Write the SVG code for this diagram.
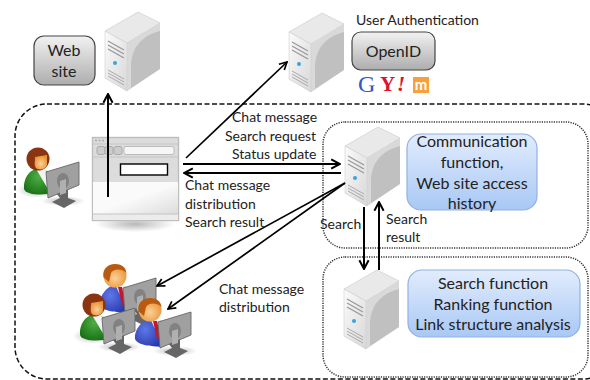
<svg xmlns="http://www.w3.org/2000/svg" xmlns:xlink="http://www.w3.org/1999/xlink" width="590" height="380" viewBox="0 0 590 380">
<style>
text{font-family:Lato,"Open Sans","Liberation Sans",sans-serif;fill:#222;font-size:14px}
.c{text-anchor:middle}
.b{font-size:16px}
.conn{fill:none;stroke:#000;stroke-width:2}
.thin{stroke-width:1.7}
.dash{fill:none;stroke:#111;stroke-width:1.5;stroke-dasharray:5 2.5}
.dot{fill:none;stroke:#333;stroke-width:1.5;stroke-dasharray:1.2 1.2}
.gray{fill:url(#gGray);stroke:#444;stroke-width:1.2}
.blue{fill:url(#gBlue);stroke:#8fb2e0;stroke-width:1.2}
.btn{fill:#ccc;stroke:#aaa}
</style>
<defs>
<linearGradient id="gGray" x1="0" y1="0" x2="0" y2="1"><stop offset="0" stop-color="#f2f2f2"/><stop offset="1" stop-color="#adadad"/></linearGradient>
<linearGradient id="gBlue" x1="0" y1="0" x2="0" y2="1"><stop offset="0" stop-color="#e2ecfd"/><stop offset="1" stop-color="#a8c8f5"/></linearGradient>
<linearGradient id="gFront" x1="0" y1="0" x2="1" y2="1"><stop offset="0" stop-color="#fbfbfb"/><stop offset="1" stop-color="#d8d8d8"/></linearGradient>
<linearGradient id="gBrowser" x1="0" y1="0" x2="1" y2="1"><stop offset="0.5" stop-color="#fafafa"/><stop offset="1" stop-color="#dcdcdc"/></linearGradient>
<radialGradient id="gHead" cx="0.5" cy="0.6" r="0.6"><stop offset="0" stop-color="#fbd09a"/><stop offset="1" stop-color="#e8902f"/></radialGradient>
<radialGradient id="gGreen" cx="0.6" cy="0.3" r="0.8"><stop offset="0" stop-color="#4fae45"/><stop offset="1" stop-color="#146d12"/></radialGradient>
<radialGradient id="gSuit" cx="0.4" cy="0.4" r="0.8"><stop offset="0" stop-color="#5f78e6"/><stop offset="1" stop-color="#1f2fa8"/></radialGradient>
<radialGradient id="gShadow"><stop offset="0" stop-color="#888" stop-opacity="0.6"/><stop offset="1" stop-color="#888" stop-opacity="0"/></radialGradient>
<marker id="arr" viewBox="0 0 10 10" refX="9" refY="5" markerWidth="5.5" markerHeight="6.5" markerUnits="strokeWidth" orient="auto"><path d="M1 0.8L9 5L1 9.2" fill="none" stroke="#000" stroke-width="1.8"/></marker>
<symbol id="server" width="58" height="82" viewBox="0 0 58 82" overflow="visible">
<path d="M33 0L55 11V57L22 79L0 66V19Z" fill="#c0c0c0"/>
<path d="M33 0L55 11L22 31L0 19Z" fill="#e9e9e9" stroke="#d4d4d4" stroke-width="0.6"/>
<path d="M22 31L55 11V19C36 24 26 36 26 56V76L22 79Z" fill="#d9d9d9"/>
<path d="M0 19L22 31V79L0 66Z" fill="url(#gFront)" stroke="#d0d0d0" stroke-width="0.6"/>
<path d="M3 29L19 38M3 33L19 42M3 37L19 46" stroke="#9a9a9a" stroke-width="1.4"/>
<path d="M3 58L19 67M3 61L19 70M3 64L19 73" stroke="#ababab" stroke-width="1"/>
<circle cx="10" cy="51" r="2" fill="#3aa3e0"/>
</symbol>
<symbol id="monitor" width="1" height="1" overflow="visible">
<ellipse cx="25" cy="40" rx="22" ry="5" fill="url(#gShadow)"/>
<path d="M18 32L30 27L30 37L38 40L26 47L14 41L22 37Z" fill="#666"/>
<path d="M8 11L41 1V24L10 37Z" fill="#a0a0a0" stroke="#666" stroke-width="0.9"/>
<ellipse cx="25" cy="20" rx="6" ry="8" fill="#828282"/>
<path d="M22 20L28 18V32L22 34Z" fill="#b0b0b0"/>
</symbol>
<symbol id="woman" width="1" height="1" overflow="visible">
<ellipse cx="-2" cy="29" rx="19" ry="8" fill="url(#gShadow)"/>
<path d="M-14 28C-15 17-8 9-2 8L10 10V33C2 34-12 34-14 28Z" fill="url(#gGreen)"/>
<path d="M-2 8L6 8L10 12V28Z" fill="#f3f3f3"/>
<circle cx="0" cy="-2" r="11.5" fill="#8a3412"/>
<path d="M-3 -4L9 -6V3C9 8 2 10 -2 7C-4 5-3 0-3 -4Z" fill="url(#gHead)"/>
<use xlink:href="#monitor" href="#monitor"/>
</symbol>
<symbol id="man" width="1" height="1" overflow="visible">
<path d="M-15 28C-16 18-8 10 0 7L11 10V36C2 35-12 35-15 28Z" fill="url(#gSuit)"/>
<path d="M0 7L10 9V24L4 16Z" fill="#f3f3f3"/>
<path d="M3 10L7 10L11 27L7 28Z" fill="#c2182b"/>
<circle cx="0" cy="-1" r="11.5" fill="url(#gHead)"/>
<path d="M-11.5 0C-13 -9-6 -13 0 -13C6 -13 11 -10 11.5 -4C6 -9 -2 -8 -4 -4L-6 5Z" fill="#b85a10"/>
<use xlink:href="#monitor" href="#monitor" x="0" y="0"/>
</symbol>
</defs>

<g id="region-outer"><rect class="dash" x="15" y="104" width="600" height="275" rx="32"/></g>
<g id="region-comm"><rect class="dot" x="323" y="122" width="265" height="126" rx="22"/></g>
<g id="region-search"><rect class="dot" x="323" y="257" width="265" height="120" rx="22"/></g>

<g id="website"><rect class="gray" x="34" y="36" width="61" height="49" rx="10"/><text class="c b" x="64" y="56">Web</text><text class="c b" x="64" y="77">site</text></g>
<g id="web-server"><use href="#server" x="105" y="12"/></g>
<g id="auth-server"><use href="#server" x="289" y="13"/></g>
<g id="comm-server"><use href="#server" x="345" y="127"/></g>
<g id="search-server"><use href="#server" x="344" y="270"/></g>

<g id="auth-label"><text x="356" y="25">User Authentication</text></g>
<g id="openid"><rect class="gray" x="352" y="32" width="83" height="38" rx="9"/><text class="c b" x="393.500" y="57">OpenID</text></g>
<g id="providers">
<text x="358" y="92" style="font-family:'Liberation Serif',serif;font-size:24px;fill:#2f56c4">G</text>
<text x="380" y="91" style="font-family:'Liberation Serif',serif;font-size:21px;font-weight:bold;fill:#e0102e">Y</text>
<text x="397" y="91" style="font-family:'Liberation Serif',serif;font-size:21px;font-weight:bold;font-style:italic;fill:#e0102e">!</text>
<rect x="413" y="77" width="16" height="16" fill="#f7a03c"/>
<text class="c" x="421" y="90" style="font-size:15px;font-weight:bold;fill:#fff">m</text>
</g>

<g id="comm-box"><rect class="blue" x="407" y="134" width="130" height="76" rx="14"/>
<text class="c b" x="472" y="147">Communication</text><text class="c b" x="472" y="168">function,</text><text class="c b" x="472" y="188.500">Web site access</text><text class="c b" x="472" y="209">history</text></g>
<g id="search-box"><rect class="blue" x="408" y="270" width="172" height="67" rx="14"/>
<text class="c b" x="493" y="289">Search function</text><text class="c b" x="493" y="309.500">Ranking function</text><text class="c b" x="493" y="330">Link structure analysis</text></g>

<g id="browser">
<ellipse cx="135" cy="224" rx="40" ry="8" fill="url(#gShadow)"/>
<rect x="92.500" y="137.500" width="86" height="83" fill="#dcdcdc" stroke="#bdbdbd" stroke-width="1.4"/>
<rect x="93" y="182" width="85" height="32" fill="url(#gBrowser)"/>
<rect x="93" y="214" width="85" height="6" fill="#ececec"/>
<path d="M93 157H178M93 144H178M93 214H178" stroke="#c4c4c4"/>
<rect x="97" y="146.500" width="8" height="8" rx="2" class="btn"/><rect x="105" y="146.500" width="8" height="8" rx="2" class="btn"/>
<rect x="114" y="146.500" width="8" height="8" rx="2" class="btn"/>
<rect x="124" y="146.500" width="50" height="8" rx="2" fill="#f6f6f6" stroke="#bbb"/>
<circle cx="96" cy="140.500" r="1" fill="#aaa"/><circle cx="99.500" cy="140.500" r="1" fill="#aaa"/><circle cx="103" cy="140.500" r="1" fill="#aaa"/>
<rect x="120.500" y="164" width="47" height="11" fill="#fff" stroke="#000" stroke-width="1.4"/>
</g>

<g id="user"><use href="#woman" x="38" y="161"/></g>
<g id="users"><use href="#man" x="115" y="277"/><use href="#woman" x="94" y="307"/><use href="#man" x="150" y="311"/></g>

<g id="connectors">
<path class="conn" marker-end="url(#arr)" d="M108 197V94"/>
<path class="conn thin" marker-end="url(#arr)" d="M186 158L287 62"/>
<path class="conn" marker-end="url(#arr)" d="M183 164H340"/>
<path class="conn" marker-end="url(#arr)" d="M341 173H184"/>
<path class="conn thin" marker-end="url(#arr)" d="M345 183L157 286"/>
<path class="conn thin" marker-end="url(#arr)" d="M345 183L168 309"/>
<path class="conn" marker-end="url(#arr)" d="M364 207V269"/>
<path class="conn" marker-end="url(#arr)" d="M379 270V202"/>
</g>

<g id="connector-labels">
<text x="232" y="122">Chat message</text><text x="225" y="141">Search request</text><text x="232" y="159">Status update</text>
<text x="185" y="190">Chat message</text><text x="185" y="208.500">distribution</text><text x="185" y="227">Search result</text>
<text x="219" y="294">Chat message</text><text x="219" y="312">distribution</text>
<text x="320" y="229">Search</text>
<text x="386" y="224">Search</text><text x="386" y="242">result</text>
</g>
</svg>
